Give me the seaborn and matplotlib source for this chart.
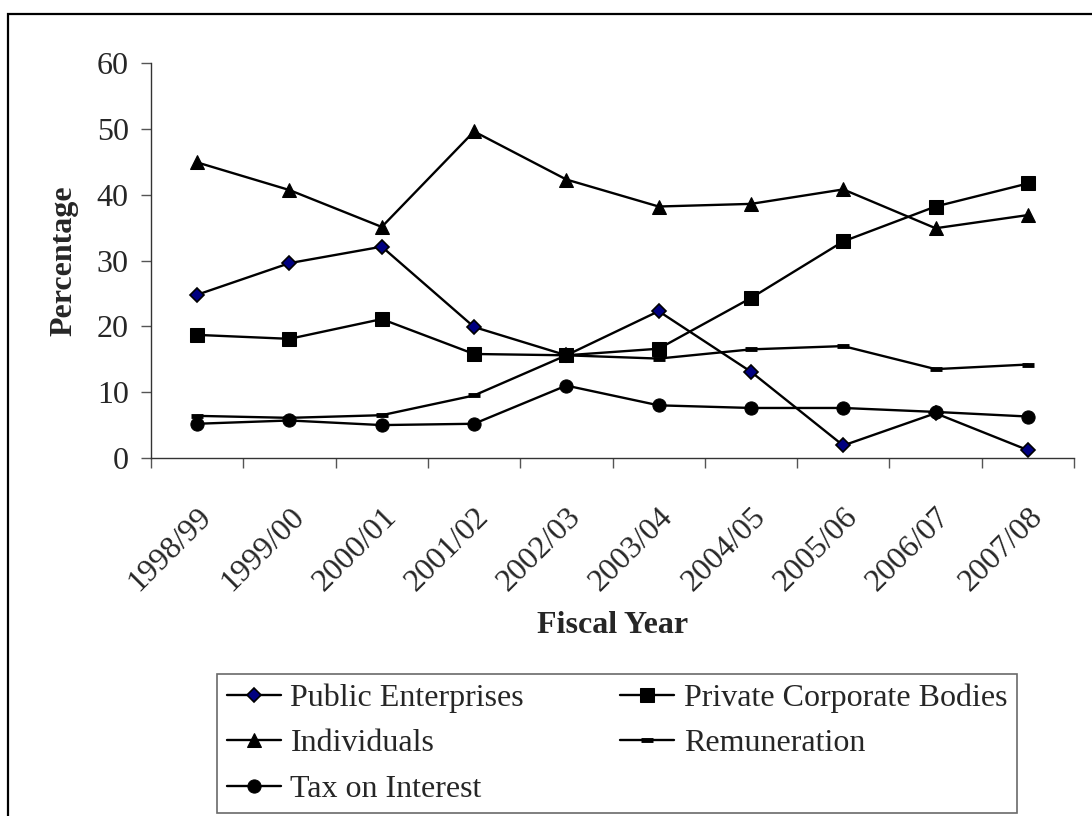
import numpy as np
import pandas as pd
import matplotlib
matplotlib.use("Agg")
import matplotlib.pyplot as plt
import matplotlib.patches as mpatches
from matplotlib.transforms import ScaledTranslation
import seaborn as sns

years = ["1998/99", "1999/00", "2000/01", "2001/02", "2002/03",
         "2003/04", "2004/05", "2005/06", "2006/07", "2007/08"]
public_enterprises = [24.8, 29.6, 32.1, 19.9, 15.6, 22.3, 13.1, 1.9, 6.8, 1.2]
private_corporate = [18.7, 18.1, 21.1, 15.8, 15.6, 16.6, 24.3, 32.9, 38.2, 41.7]
individuals = [44.9, 40.7, 35.1, 49.6, 42.3, 38.2, 38.6, 40.8, 34.9, 36.9]
remuneration = [6.4, 6.1, 6.5, 9.5, 15.6, 15.1, 16.5, 17.0, 13.5, 14.2]
tax_on_interest = [5.2, 5.7, 5.0, 5.2, 11.0, 8.0, 7.6, 7.6, 7.0, 6.3]
yticks = [0, 10, 20, 30, 40, 50, 60]

sns.set_theme(style="white")
plt.rcParams["font.family"] = ["Liberation Serif", "DejaVu Serif"]

FS = 23
fig = plt.figure(figsize=(10.92, 8.16), dpi=100)
ax = fig.add_axes([151/1092, 1-458/816, (1074-151)/1092, (458-63)/816])

x = np.arange(len(years))
series = [
    ("Public Enterprises", public_enterprises, dict(marker="D", markersize=6.8, markerfacecolor="#000080", markeredgecolor="black", markeredgewidth=1.2)),
    ("Private Corporate Bodies", private_corporate, dict(marker="s", markersize=9.5, markerfacecolor="black", markeredgecolor="black")),
    ("Individuals", individuals, dict(marker="^", markersize=10.5, markerfacecolor="black", markeredgecolor="black")),
    ("Remuneration", remuneration, dict(marker="_", markersize=9, markeredgewidth=3.5, markeredgecolor="black")),
    ("Tax on Interest", tax_on_interest, dict(marker="o", markersize=9.5, markerfacecolor="black", markeredgecolor="black")),
]
for name, vals, kw in series:
    df = pd.DataFrame({"x": x, "y": vals})
    sns.lineplot(data=df, x="x", y="y", ax=ax, color="black", linewidth=1.7,
                 label=name, legend=False, **kw)

ax.set_xlim(-0.5, len(years)-0.5)
ax.set_ylim(0, 60)
ax.set_yticks(yticks)
ax.set_yticklabels([str(v) for v in yticks], fontsize=FS)
ax.set_xticks(x)
ax.set_xticklabels(years, fontsize=FS, rotation=45, ha="right", rotation_mode="anchor")
off = ScaledTranslation(-12/100, 0, fig.dpi_scale_trans)
for lab in ax.get_xticklabels():
    lab.set_transform(lab.get_transform() + off)
ax.set_xticks(np.arange(-0.5, len(years), 1.0), minor=True)
ax.tick_params(axis="x", which="major", length=0, pad=32)
ax.tick_params(axis="x", which="minor", length=7, width=1, color="#555555", direction="out", bottom=True)
ax.tick_params(axis="y", length=7, width=1, color="#555555", direction="out", left=True, pad=9)
for s in ["top", "right"]:
    ax.spines[s].set_visible(False)
for s in ["left", "bottom"]:
    ax.spines[s].set_color("#333333")
    ax.spines[s].set_linewidth(1.0)
ax.grid(False)
ax.set_xlabel("Fiscal Year", fontsize=FS, fontweight="bold", labelpad=10)
ax.set_ylabel("Percentage", fontsize=FS, fontweight="bold", labelpad=13)

handles, labels = ax.get_legend_handles_labels()
order = [0, 2, 4, 1, 3]
leg = fig.legend([handles[i] for i in order], [labels[i] for i in order],
                 loc="upper left", bbox_to_anchor=(217/1092, 1-674/816, 800/1092, 0.0),
                 mode="expand", ncol=2, fontsize=FS, frameon=True, fancybox=False,
                 handlelength=1.7, handletextpad=0.3, labelspacing=0.5,
                 borderpad=0.3, borderaxespad=0, columnspacing=1.0)
leg.get_frame().set_edgecolor("#444444")
leg.get_frame().set_linewidth(1.2)

border = mpatches.Rectangle((8/1092, -0.1), 1.2, 1-14/816+0.1, transform=fig.transFigure,
                            fill=False, edgecolor="black", linewidth=1.6)
fig.patches.append(border)

fig.savefig("out.png", dpi=100)
